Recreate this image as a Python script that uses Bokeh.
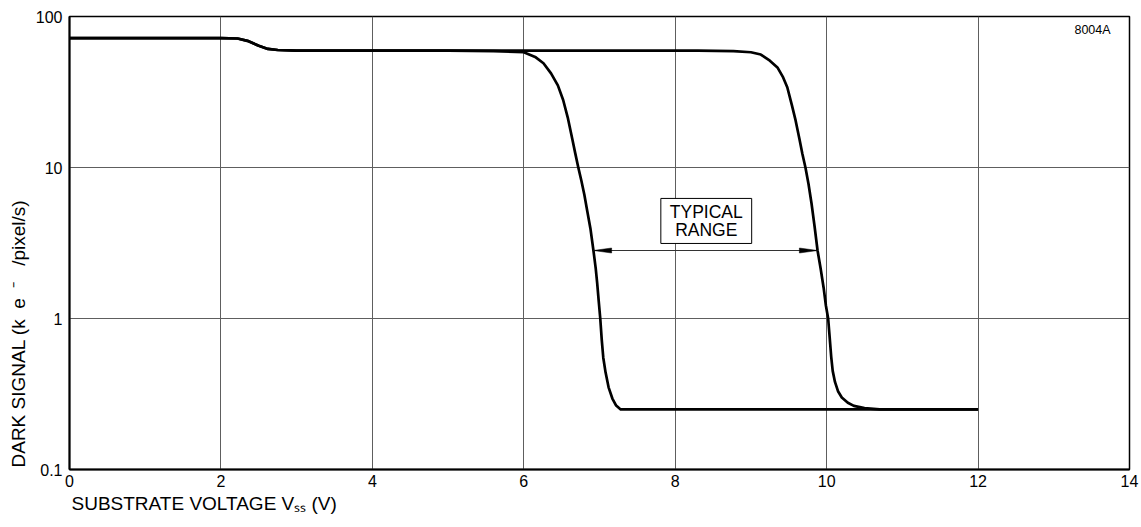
import math
from bokeh.plotting import figure
from bokeh.models import (Range1d, FixedTicker, Label, BoxAnnotation, Title)
from bokeh.embed import file_html
from bokeh.resources import INLINE

# ---- data ----
x_ticks = [0, 2, 4, 6, 8, 10, 12, 14]
y_ticks = [0.1, 1, 10, 100]
y_tick_labels = ["0.1", "1", "10", "100"]

# lower bound of the typical range (left curve)
curve_a_x = [0, 2.0, 2.22, 2.35, 2.5, 2.62, 2.75, 3.0, 4.0, 5.0, 5.6, 6.0, 6.15, 6.26,
             6.36, 6.45, 6.52, 6.58, 6.64, 6.68, 6.72, 6.76, 6.8, 6.84, 6.88, 6.92,
             6.95, 6.97, 6.99, 7.01, 7.03, 7.05, 7.08, 7.12, 7.17, 7.22, 7.28, 8, 10, 12]
curve_a_y = [72, 72, 71.5, 69, 64, 61, 60, 59.5, 59.5, 59.5, 59, 58, 54, 49,
             42, 35, 28, 21.5, 15.5, 12.4, 10, 8.2, 6.6, 5.1, 3.95, 2.82,
             2.15, 1.7, 1.3, 1.0, 0.72, 0.55, 0.44, 0.35, 0.295, 0.265, 0.25, 0.25, 0.25, 0.25]

# upper bound of the typical range (right curve)
curve_b_x = [0, 2.0, 2.22, 2.35, 2.5, 2.62, 2.75, 3.0, 5, 7, 8.3, 8.77, 9.0, 9.13,
             9.25, 9.35, 9.42, 9.48, 9.54, 9.59, 9.64, 9.68, 9.72, 9.76, 9.8, 9.84,
             9.88, 9.92, 9.96, 9.99, 10.02, 10.04, 10.06, 10.08, 10.11, 10.15, 10.2,
             10.28, 10.36, 10.5, 10.7, 11, 12]
curve_b_y = [72, 72, 71.5, 69, 64, 61, 60, 59.5, 59.5, 59.5, 59.5, 59, 58, 56,
             51, 46, 40, 34, 26, 20.5, 15.5, 12.3, 10, 7.8, 5.8, 4.1,
             2.82, 2.15, 1.6, 1.22, 1.0, 0.75, 0.56, 0.45, 0.38, 0.33, 0.3,
             0.277, 0.264, 0.255, 0.25, 0.25, 0.25]

# typical-range arrow (signal level, left and right voltage)
range_y = 2.82
range_x0 = 6.92
range_x1 = 9.88

FONT = "Liberation Sans"

p = figure(width=1141, height=527, x_range=Range1d(0, 14), y_range=Range1d(0.1, 100),
           y_axis_type="log", output_backend="svg", toolbar_location=None,
           min_border_left=69, min_border_right=12, min_border_top=16, min_border_bottom=58)
p.background_fill_color = "white"
p.border_fill_color = "white"
p.outline_line_color = "black"
p.outline_line_width = 1.5

# axes
for ax in (p.xaxis[0], p.yaxis[0]):
    ax.major_tick_in = 0
    ax.major_tick_out = 0
    ax.minor_tick_in = 0
    ax.minor_tick_out = 0
    ax.axis_line_color = "black"
    ax.axis_line_width = 2
    ax.major_label_text_font = FONT
    ax.major_label_text_font_size = "16px"
    ax.major_label_text_color = "black"
p.xaxis.ticker = FixedTicker(ticks=x_ticks)
p.yaxis.ticker = FixedTicker(ticks=y_ticks)
p.yaxis.major_label_overrides = {v: s for v, s in zip(y_ticks, y_tick_labels)}
p.xaxis.major_label_standoff = 5
p.yaxis.major_label_standoff = 7

p.xgrid.ticker = FixedTicker(ticks=x_ticks)
p.ygrid.ticker = FixedTicker(ticks=y_ticks)
for g in (p.xgrid[0], p.ygrid[0]):
    g.grid_line_color = "#5e5e5e"
    g.grid_line_width = 1
p.ygrid.minor_grid_line_color = None

# axis titles
p.add_layout(Title(text="SUBSTRATE VOLTAGE V\u209b\u209b (V)", align="left", offset=2,
                   standoff=2, text_font=FONT, text_font_size="19px",
                   text_font_style="normal", text_color="black"), "below")
p.add_layout(Title(text="DARK SIGNAL (k\u00a0\u00a0e\u00a0\u00a0\u207b\u00a0\u00a0\u00a0/pixel/s)",
                   align="left", offset=2, standoff=7, text_font=FONT, text_font_size="19px",
                   text_font_style="normal", text_color="black"), "left")

# curves
p.line(curve_a_x, curve_a_y, line_color="black", line_width=2.7, line_join="round")
p.line(curve_b_x, curve_b_y, line_color="black", line_width=2.7, line_join="round")

# typical range arrow
p.line([range_x0, range_x1], [range_y, range_y], line_color="#333333", line_width=1)
head_len = 0.24
head_fac = 10 ** (2.5 / 151)
p.patches(
    [[range_x0, range_x0 + head_len, range_x0 + head_len],
     [range_x1, range_x1 - head_len, range_x1 - head_len]],
    [[range_y, range_y * head_fac, range_y / head_fac],
     [range_y, range_y * head_fac, range_y / head_fac]],
    fill_color="black", line_color="black", line_width=0.5)

# text box
box = BoxAnnotation(left=7.81, right=9.01, bottom=3.14, top=6.24,
                    fill_color="white", fill_alpha=1.0,
                    line_color="black", line_width=1, line_alpha=1.0)
p.add_layout(box)
for txt, yy in (("TYPICAL", 5.06), ("RANGE", 3.83)):
    p.add_layout(Label(x=8.41, y=yy, text=txt, text_align="center", text_baseline="middle",
                       text_font=FONT, text_font_size="17.5px", text_color="black"))

p.add_layout(Label(x=13.75, y=80.8, text="8004A", text_align="right", text_baseline="middle",
                   text_font=FONT, text_font_size="12.5px", text_color="black"))

open("out.html", "w").write(file_html(p, INLINE))
